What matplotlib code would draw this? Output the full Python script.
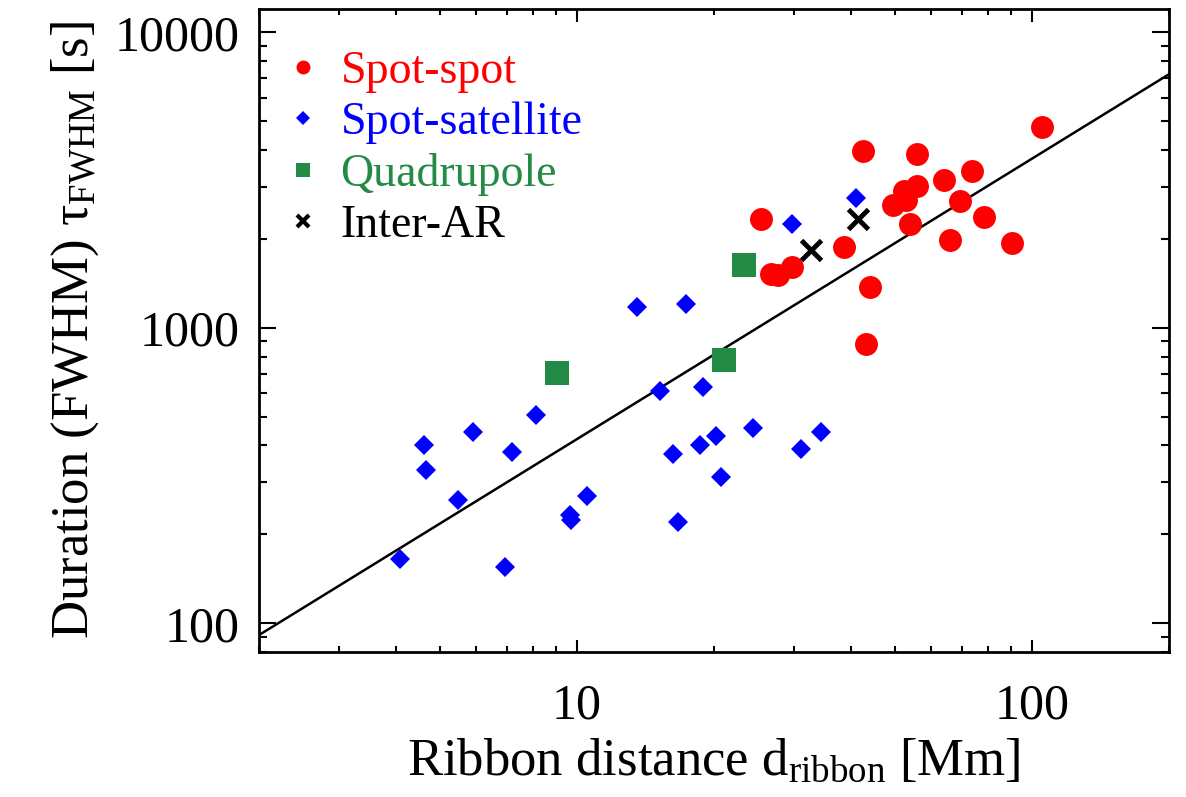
import numpy as np
import matplotlib
matplotlib.use("Agg")
import matplotlib.pyplot as plt
from matplotlib.lines import Line2D
from matplotlib import ticker

plt.rcParams['font.family'] = ['Liberation Serif', 'DejaVu Serif']
plt.rcParams['mathtext.fontset'] = 'custom'
plt.rcParams['mathtext.rm'] = 'Liberation Serif'
plt.rcParams['mathtext.it'] = 'Liberation Serif:italic'

# Spot-spot flares (ribbon distance [Mm], duration [s])
spot_spot_d = [42.4, 55.9, 104.9, 73.9, 64.2, 55.9, 52.3, 52.8, 49.4, 69.5, 78.6,
               53.8, 25.4, 38.7, 65.9, 90.5, 44.0, 43.2, 29.7, 27.7, 26.7]
spot_spot_t = [3972, 3890, 4779, 3400, 3171, 3027, 2912, 2709, 2612, 2694, 2379,
               2248, 2330, 1875, 1986, 1934, 1375, 881, 1606, 1506, 1525]

# Spot-satellite flares
spot_sat_d = [41.0, 29.7, 13.57, 17.34, 15.19, 18.88, 24.36, 34.4, 20.17, 18.64,
              16.23, 31.1, 20.75, 16.67, 8.12, 5.90, 4.62, 7.18, 4.65, 5.47,
              10.50, 9.63, 9.72, 4.08, 6.95]
spot_sat_t = [2751, 2248, 1177, 1202, 613, 633, 460, 444, 432, 402,
              374, 389, 313, 221, 508, 446, 402, 380, 331, 261,
              269, 232, 223, 165, 155]

# Quadrupole flares
quad_d = [23.3, 21.07, 9.05]
quad_t = [1627, 778, 702]

# Inter-AR flares
inter_d = [32.6, 41.5]
inter_t = [1838, 2337]

# power-law fit  tau = A * d^alpha
fit_A = 47.3
fit_alpha = 0.949

fig = plt.figure(figsize=(11.86, 7.97), dpi=100)
ax = fig.add_axes([0.2184, 0.1819, 0.7673, 0.8068])

xf = np.logspace(np.log10(2), np.log10(200), 200)
ax.plot(xf, fit_A * xf**fit_alpha, color='black', lw=1.8, zorder=2)

ax.plot(spot_spot_d, spot_spot_t, 'o', color='#ff0000', ms=16.5, mew=0, zorder=3)
ax.plot(spot_sat_d, spot_sat_t, 'D', color='#0000ff', ms=10.5, mew=0, zorder=3)
ax.plot(quad_d, quad_t, 's', color='#238b45', ms=17, mew=0, zorder=3)
ax.plot(inter_d, inter_t, 'x', color='black', ms=15, mew=3.5, zorder=4)

ax.set_xscale('log')
ax.set_yscale('log')
ax.set_xlim(2, 200)
ax.set_ylim(80, 12000)

fmt = ticker.FuncFormatter(lambda v, _: f'{v:g}')
ax.xaxis.set_major_formatter(fmt)
ax.yaxis.set_major_formatter(fmt)
ax.xaxis.set_minor_formatter(ticker.NullFormatter())
ax.yaxis.set_minor_formatter(ticker.NullFormatter())

ax.tick_params(axis='both', which='both', direction='in', top=True, right=True, width=1.5)
ax.tick_params(axis='x', which='major', length=9, labelsize=36, pad=22)
ax.tick_params(axis='x', which='minor', length=4.5)
ax.tick_params(axis='y', which='major', length=12.5, labelsize=36, pad=14)
ax.tick_params(axis='y', which='minor', length=6)
for s in ax.spines.values():
    s.set_linewidth(2)

ax.set_xlabel(r'Ribbon distance d$_{\rm ribbon}$ [Mm]', fontsize=38, labelpad=6)
ax.set_ylabel(r'Duration (FWHM) τ$_{\rm FWHM}$ [s]', fontsize=38, labelpad=10)

handles = [
    Line2D([], [], ls='none', marker='o', color='#ff0000', ms=10, mew=0),
    Line2D([], [], ls='none', marker='D', color='#0000ff', ms=7, mew=0),
    Line2D([], [], ls='none', marker='s', color='#238b45', ms=10, mew=0),
    Line2D([], [], ls='none', marker='x', color='black', ms=9, mew=3),
]
names = ['Spot-spot', 'Spot-satellite', 'Quadrupole', 'Inter-AR']
leg = ax.legend(handles, names, loc='upper left', bbox_to_anchor=(0.029, 0.936),
                frameon=False, fontsize=33, handlelength=0.75, handletextpad=0.45,
                labelspacing=0.19, borderpad=0, borderaxespad=0,
                labelcolor=['#ff0000', '#0000ff', '#238b45', 'black'])

fig.savefig('out.png', dpi=100)
